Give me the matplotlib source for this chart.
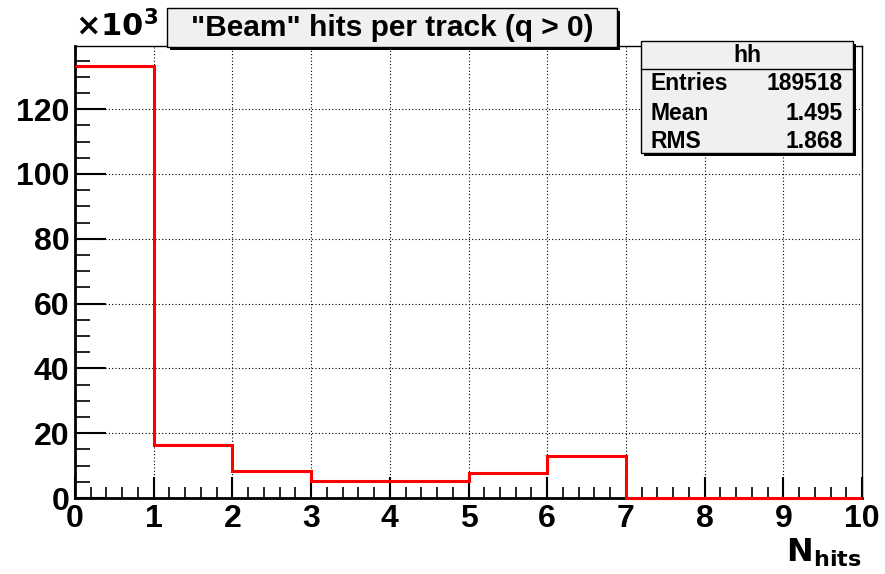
import numpy as np
import matplotlib.pyplot as plt
from matplotlib.patches import Rectangle
from matplotlib.ticker import MultipleLocator

plt.rcParams['font.family'] = ['Liberation Sans', 'DejaVu Sans']
plt.rcParams['font.weight'] = 'bold'

# histogram contents (x10^3) per bin of N_hits
edges = [0, 1, 2, 3, 4, 5, 6, 7, 8, 9, 10]
counts = [133.3, 16.4, 8.4, 5.4, 5.4, 7.7, 12.9, 0.0, 0.0, 0.0]

title = '"Beam" hits per track (q > 0)'
stats_name = 'hh'
stats_rows = [('Entries', '189518'), ('Mean', '1.495'), ('RMS', '1.868')]

W, H = 885, 574
fig = plt.figure(figsize=(W / 100, H / 100), dpi=100, facecolor='white')
ax = fig.add_axes([75 / W, 1 - 498 / H, (862 - 75) / W, (498 - 46) / H])

ax.stairs(counts, edges, color='red', linewidth=2.2, baseline=None, zorder=5,
          clip_on=False)

ax.set_xlim(0, 10)
ax.set_ylim(0, 139.5)
ax.xaxis.set_major_locator(MultipleLocator(1))
ax.xaxis.set_minor_locator(MultipleLocator(0.2))
ax.yaxis.set_major_locator(MultipleLocator(20))
ax.yaxis.set_minor_locator(MultipleLocator(5))
ax.grid(True, which='major', color='black', linestyle=(0, (1, 2)), linewidth=0.8)

ax.tick_params(axis='both', which='major', direction='in', labelsize=23,
               width=1.5, pad=4)
ax.tick_params(axis='x', which='major', length=15, top=False)
ax.tick_params(axis='y', which='major', length=22, right=False)
ax.tick_params(axis='x', which='minor', direction='in', length=8, width=1.2)
ax.tick_params(axis='y', which='minor', direction='in', length=11, width=1.2)
for lab in ax.get_xticklabels() + ax.get_yticklabels():
    lab.set_fontweight('bold')

for side in ['top', 'right']:
    ax.spines[side].set_linewidth(1.0)
for side in ['left', 'bottom']:
    ax.spines[side].set_linewidth(2.0)

# axis labels
fig.text(862 / W, 1 - 553 / H, r'$\mathbf{N}_{\mathbf{hits}}$', ha='right', va='center',
         fontsize=23)
fig.text(75 / W, 1 - 27 / H, r'$\times\mathbf{10^{3}}$', ha='left', va='center',
         fontsize=22)

# title box
def box(x0, y0, x1, y1):
    fig.patches.append(Rectangle((x0 / W + 3 / W, 1 - y1 / H - 3 / H), (x1 - x0) / W,
                                 (y1 - y0) / H, transform=fig.transFigure,
                                 facecolor='black', edgecolor='none', zorder=5))
    fig.patches.append(Rectangle((x0 / W, 1 - y1 / H), (x1 - x0) / W, (y1 - y0) / H,
                                 transform=fig.transFigure, facecolor='#f0f0f0',
                                 edgecolor='black', linewidth=1.0, zorder=6))

box(167, 8, 617, 47)
fig.text(392 / W, 1 - 28 / H, title, ha='center', va='center', fontsize=21.5,
         fontweight='bold', zorder=7)

# stats box
box(641, 41, 853, 153)
fig.add_artist(plt.Line2D([641 / W, 853 / W], [1 - 69 / H, 1 - 69 / H],
                          transform=fig.transFigure, color='black', linewidth=1.0, zorder=7))
fig.text(747 / W, 1 - 55 / H, stats_name, ha='center', va='center', fontsize=16.5,
         fontweight='bold', zorder=7)
for i, (k, v) in enumerate(stats_rows):
    y = 1 - (84 + 29 * i) / H
    fig.text(651 / W, y, k, ha='left', va='center', fontsize=16.5, fontweight='bold', zorder=7)
    fig.text(843 / W, y, v, ha='right', va='center', fontsize=16.5, fontweight='bold', zorder=7)

fig.savefig('out.png', dpi=100)
